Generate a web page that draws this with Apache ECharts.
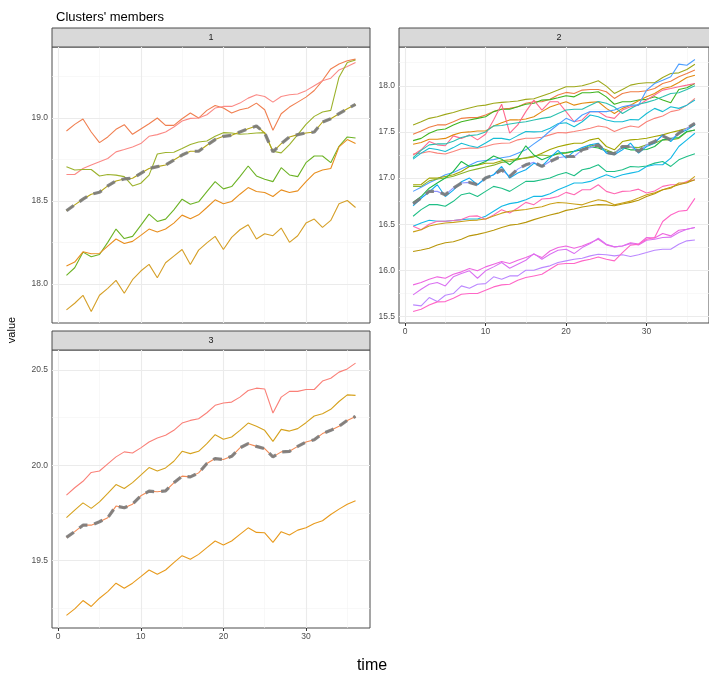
<!DOCTYPE html>
<html><head><meta charset="utf-8">
<script src="https://cdn.jsdelivr.net/npm/echarts@6/dist/echarts.min.js"></script>
<style>html,body{margin:0;padding:0;background:#fff}#c{width:709px;height:677px}</style>
</head><body><div id="c"></div>
<script>
const FONT = '"Liberation Sans", Arial, sans-serif';
const timeSteps = [1,2,3,4,5,6,7,8,9,10,11,12,13,14,15,16,17,18,19,20,21,22,23,24,25,26,27,28,29,30,31,32,33,34,35,36];
const xTicks = [0, 10, 20, 30];
const xMinor = [5, 15, 25, 35];
const yTicks1 = [18.0, 18.5, 19.0];
const yMinor1 = [18.25, 18.75, 19.25];
const yTicks2 = [15.5, 16.0, 16.5, 17.0, 17.5, 18.0];
const yMinor2 = [15.75, 16.25, 16.75, 17.25, 17.75, 18.25];
const yTicks3 = [19.5, 20.0, 20.5];
const yMinor3 = [19.25, 19.75, 20.25];

// ---- Cluster 1 members ----
const c1_A = [18.922,18.962,18.994,18.916,18.852,18.886,18.932,18.96,18.902,18.934,18.966,19.0,18.956,18.956,18.996,19.03,19.0,19.046,19.076,19.06,19.03,19.05,19.06,19.09,19.05,18.926,19.026,19.066,19.096,19.126,19.166,19.226,19.296,19.326,19.345,19.355];
const c1_B = [18.66,18.66,18.696,18.717,18.737,18.756,18.796,18.81,18.826,18.846,18.89,18.9,18.916,18.946,18.982,18.998,19.0,19.02,19.06,19.07,19.07,19.09,19.12,19.14,19.13,19.096,19.13,19.14,19.145,19.165,19.195,19.225,19.24,19.29,19.31,19.335];
const c1_C = [18.707,18.687,18.69,18.69,18.651,18.66,18.656,18.647,18.591,18.607,18.656,18.783,18.792,18.794,18.816,18.84,18.856,18.862,18.89,18.912,18.91,18.902,18.905,18.91,18.912,18.80,18.79,18.84,18.90,18.962,19.01,19.036,19.046,19.246,19.335,19.35];
const c1_D = [18.441,18.477,18.511,18.541,18.553,18.591,18.621,18.633,18.637,18.667,18.696,18.707,18.717,18.747,18.777,18.8,18.8,18.836,18.87,18.89,18.896,18.916,18.936,18.952,18.91,18.796,18.846,18.886,18.90,18.91,18.916,18.976,18.996,19.026,19.056,19.082];
const c1_E = [18.052,18.098,18.192,18.164,18.178,18.251,18.331,18.274,18.287,18.353,18.421,18.377,18.391,18.447,18.511,18.481,18.495,18.557,18.617,18.573,18.587,18.647,18.711,18.651,18.631,18.617,18.701,18.657,18.647,18.731,18.771,18.771,18.731,18.83,18.886,18.88];
const c1_F = [18.108,18.132,18.194,18.182,18.184,18.228,18.271,18.244,18.257,18.293,18.331,18.313,18.331,18.367,18.415,18.393,18.417,18.461,18.507,18.483,18.497,18.541,18.581,18.557,18.551,18.527,18.567,18.551,18.561,18.617,18.667,18.687,18.696,18.826,18.87,18.846];
const c1_G = [17.844,17.884,17.932,17.834,17.932,17.974,18.022,17.944,18.026,18.078,18.118,18.038,18.128,18.168,18.208,18.118,18.204,18.248,18.287,18.208,18.281,18.327,18.357,18.271,18.303,18.291,18.337,18.251,18.291,18.367,18.391,18.341,18.383,18.483,18.503,18.461];
const centroid1 = c1_D;

// ---- Cluster 2 members ----
const c2_a = [17.576,17.61,17.647,17.665,17.69,17.71,17.737,17.76,17.78,17.79,17.81,17.82,17.827,17.835,17.853,17.86,17.89,17.92,17.953,17.99,17.989,18.0,18.025,18.054,17.996,17.917,17.96,18.007,18.025,18.032,18.032,18.09,18.133,18.14,18.176,18.234];
const c2_b = [17.475,17.51,17.55,17.576,17.576,17.61,17.647,17.655,17.655,17.683,17.72,17.748,17.755,17.773,17.81,17.827,17.827,17.853,17.9,17.928,17.917,17.953,17.96,17.96,17.935,17.863,17.917,17.935,17.935,17.946,17.97,18.025,18.05,18.097,18.133,18.17];
const c2_c = [17.406,17.43,17.486,17.52,17.532,17.576,17.61,17.63,17.647,17.665,17.72,17.745,17.745,17.773,17.80,17.81,17.845,17.85,17.87,17.892,17.88,17.924,17.924,17.935,17.88,17.80,17.827,17.827,17.845,17.853,17.88,17.845,17.817,17.96,17.978,18.025];
const c2_d = [17.367,17.385,17.42,17.42,17.43,17.468,17.493,17.50,17.51,17.51,17.565,17.60,17.63,17.63,17.64,17.665,17.72,17.77,17.80,17.827,17.79,17.81,17.82,17.827,17.755,17.70,17.755,17.79,17.838,17.88,17.917,17.97,17.99,18.036,18.09,18.115];
const c2_e = [17.25,17.306,17.396,17.36,17.35,17.457,17.43,17.468,17.414,17.475,17.63,17.80,17.486,17.576,17.72,17.845,17.737,17.827,17.827,17.72,17.61,17.63,17.72,17.72,17.665,17.647,17.737,17.773,17.79,17.845,17.9,17.953,17.97,17.99,18.007,18.025];
const c2_f = [17.26,17.27,17.288,17.27,17.26,17.288,17.317,17.324,17.324,17.342,17.367,17.378,17.38,17.414,17.432,17.432,17.442,17.468,17.493,17.49,17.504,17.52,17.54,17.565,17.55,17.504,17.54,17.565,17.55,17.61,17.647,17.673,17.72,17.737,17.79,17.863];
const c2_g = [17.205,17.27,17.324,17.31,17.288,17.33,17.378,17.35,17.331,17.38,17.432,17.43,17.414,17.46,17.504,17.5,17.504,17.54,17.59,17.60,17.557,17.61,17.683,17.665,17.63,17.61,17.61,17.635,17.63,17.70,17.755,17.72,17.773,17.755,17.79,17.845];
const c2_h = [17.22,17.30,17.36,17.37,17.37,17.40,17.44,17.46,17.47,17.50,17.565,17.57,17.586,17.60,17.61,17.63,17.647,17.66,17.7,17.737,17.745,17.745,17.79,17.83,17.81,17.77,17.70,17.75,17.80,17.82,17.845,17.88,17.917,17.924,17.96,18.0];
const c2_i = [16.856,16.90,16.95,16.99,17.036,17.06,17.10,17.14,17.18,17.19,17.20,17.22,17.234,17.27,17.306,17.37,17.432,17.51,17.58,17.647,17.61,17.683,17.72,17.72,17.72,17.737,17.773,17.79,17.79,17.953,18.025,18.06,18.097,18.234,18.223,18.284];
const c2_j = [16.928,16.93,17.0,17.0,17.018,17.036,17.072,17.126,17.14,17.16,17.16,17.187,17.198,17.21,17.216,17.23,17.27,17.31,17.34,17.36,17.378,17.378,17.414,17.432,17.342,17.306,17.396,17.414,17.42,17.432,17.45,17.468,17.493,17.514,17.54,17.576];
const c2_k = [16.91,16.91,16.97,16.99,17.0,17.02,17.05,17.08,17.1,17.12,17.14,17.17,17.18,17.2,17.22,17.24,17.25,17.24,17.26,17.27,17.29,17.306,17.36,17.34,17.306,17.27,17.342,17.335,17.33,17.36,17.378,17.414,17.414,17.43,17.5,17.52];
const c2_l = [16.737,16.8,16.89,16.946,17.0,17.072,17.18,17.126,17.144,17.18,17.24,17.205,17.144,17.216,17.35,17.25,17.198,17.234,17.27,17.277,17.29,17.306,17.34,17.325,17.29,17.27,17.33,17.306,17.306,17.31,17.342,17.414,17.43,17.44,17.504,17.52];
const c2_m = [16.723,16.784,16.856,16.856,16.82,16.892,16.946,16.953,16.928,17.0,17.036,17.09,17.018,17.097,17.144,17.17,17.126,17.18,17.22,17.234,17.234,17.306,17.33,17.36,17.277,17.263,17.342,17.342,17.288,17.36,17.396,17.457,17.414,17.486,17.54,17.594];
const c2_n = [16.70,16.78,16.85,16.928,16.80,16.87,16.96,17.0,16.928,17.0,17.036,17.126,17.0,17.054,17.09,17.16,17.126,17.22,17.30,17.216,17.29,17.33,17.36,17.378,17.27,17.252,17.306,17.378,17.27,17.342,17.378,17.468,17.396,17.486,17.52,17.576];
const c2_o = [16.586,16.658,16.712,16.712,16.694,16.748,16.82,16.838,16.8,16.856,16.91,16.89,16.856,16.91,16.964,16.964,16.982,17.0,17.036,17.061,17.025,17.09,17.108,17.144,17.072,17.072,17.09,17.126,17.12,17.13,17.162,17.18,17.126,17.198,17.234,17.263];
const c2_p = [16.478,16.514,16.543,16.532,16.532,16.54,16.55,16.556,16.556,16.586,16.64,16.694,16.723,16.737,16.766,16.802,16.802,16.831,16.874,16.91,16.946,16.946,16.964,17.0,17.036,17.007,17.036,17.054,17.072,17.126,17.144,17.144,17.216,17.342,17.414,17.486];
const c2_q = [16.478,16.44,16.50,16.532,16.532,16.54,16.55,16.586,16.59,16.554,16.6,16.658,16.622,16.676,16.737,16.712,16.773,16.78,16.8,16.845,16.82,16.874,16.874,16.928,16.856,16.831,16.856,16.86,16.88,16.838,16.86,16.91,16.928,16.93,16.964,16.982];
const c2_r = [16.417,16.44,16.48,16.50,16.514,16.52,16.53,16.54,16.545,16.557,16.59,16.62,16.64,16.65,16.66,16.676,16.69,16.72,16.735,16.73,16.72,16.71,16.74,16.766,16.75,16.71,16.73,16.75,16.784,16.82,16.84,16.874,16.89,16.946,16.95,17.018];
const c2_s = [16.204,16.22,16.24,16.276,16.30,16.31,16.338,16.374,16.39,16.41,16.435,16.464,16.49,16.50,16.52,16.55,16.575,16.60,16.62,16.65,16.665,16.687,16.70,16.712,16.71,16.70,16.72,16.737,16.76,16.80,16.83,16.874,16.90,16.928,16.95,16.982];
const c2_t = [15.843,15.868,15.904,15.93,15.915,15.958,15.984,16.02,15.995,16.038,16.067,16.096,16.074,16.11,16.139,16.175,16.139,16.21,16.247,16.265,16.24,16.265,16.30,16.338,16.276,16.255,16.265,16.30,16.285,16.356,16.35,16.40,16.374,16.435,16.446,16.464];
const c2_u = [15.735,15.796,15.85,15.868,15.832,15.93,15.966,15.995,15.915,15.995,16.038,16.085,16.023,16.067,16.11,16.182,16.12,16.175,16.218,16.229,16.182,16.247,16.29,16.348,16.283,16.255,16.265,16.29,16.276,16.327,16.338,16.356,16.36,16.41,16.446,16.464];
const c2_v = [15.626,15.616,15.706,15.662,15.731,15.749,15.832,15.807,15.85,15.857,15.93,15.904,15.94,15.94,16.002,16.002,16.03,16.049,16.085,16.103,16.12,16.132,16.157,16.175,16.17,16.157,16.17,16.15,16.17,16.193,16.218,16.229,16.229,16.283,16.32,16.33];
const c2_w = [15.554,15.58,15.626,15.659,15.662,15.699,15.742,15.749,15.749,15.785,15.821,15.843,15.85,15.894,15.922,15.94,15.958,16.013,16.067,16.074,16.074,16.103,16.12,16.146,16.12,16.103,16.193,16.273,16.283,16.338,16.356,16.53,16.60,16.64,16.65,16.78];
const centroid2 = c2_m;

// ---- Cluster 3 members ----
const c3_P = [19.843,19.882,19.916,19.962,19.970,20.007,20.044,20.07,20.064,20.091,20.122,20.143,20.157,20.183,20.221,20.235,20.244,20.275,20.314,20.326,20.331,20.357,20.392,20.404,20.4,20.274,20.357,20.387,20.387,20.397,20.397,20.441,20.456,20.488,20.505,20.535];
const c3_Q = [19.725,19.765,19.803,19.774,19.808,19.852,19.899,19.878,19.909,19.948,19.988,19.970,19.986,20.021,20.073,20.061,20.073,20.113,20.16,20.136,20.148,20.183,20.221,20.204,20.183,20.125,20.188,20.179,20.192,20.223,20.258,20.27,20.293,20.334,20.369,20.366];
const c3_R = [19.622,19.652,19.686,19.686,19.704,19.725,19.786,19.777,19.796,19.840,19.864,19.861,19.866,19.908,19.943,19.939,19.960,20.009,20.035,20.03,20.047,20.091,20.113,20.099,20.087,20.044,20.07,20.073,20.099,20.122,20.134,20.166,20.183,20.204,20.235,20.256];
const c3_S = [19.213,19.247,19.291,19.26,19.303,19.338,19.382,19.355,19.382,19.416,19.451,19.429,19.451,19.490,19.526,19.507,19.533,19.568,19.603,19.582,19.603,19.638,19.672,19.648,19.646,19.596,19.652,19.634,19.66,19.672,19.695,19.709,19.742,19.77,19.796,19.814];
const centroid3 = c3_R;

const members = [
  {g:0, v:c1_A, c:'#F07F50'}, {g:0, v:c1_B, c:'#FB8A86'}, {g:0, v:c1_C, c:'#9CB22C'},
  {g:0, v:c1_D, c:'#B3A415'}, {g:0, v:c1_E, c:'#6CB325'}, {g:0, v:c1_F, c:'#E88E1E'},
  {g:0, v:c1_G, c:'#D6A028'},
  {g:1, v:c2_a, c:'#9EA81A'}, {g:1, v:c2_b, c:'#EF7D45'}, {g:1, v:c2_c, c:'#3FB41F'},
  {g:1, v:c2_d, c:'#E28A10'}, {g:1, v:c2_e, c:'#FF6A8E'}, {g:1, v:c2_f, c:'#F9837A'},
  {g:1, v:c2_g, c:'#17BDD4'}, {g:1, v:c2_h, c:'#2CC0B0'}, {g:1, v:c2_i, c:'#4E9FFF'},
  {g:1, v:c2_j, c:'#A3A500'}, {g:1, v:c2_k, c:'#8AB32A'}, {g:1, v:c2_l, c:'#1DB84A'},
  {g:1, v:c2_m, c:'#8F94FF'}, {g:1, v:c2_n, c:'#11ADF0'}, {g:1, v:c2_o, c:'#1FBF86'},
  {g:1, v:c2_p, c:'#14B9E6'}, {g:1, v:c2_q, c:'#FF6AB4'}, {g:1, v:c2_r, c:'#C9A018'},
  {g:1, v:c2_s, c:'#B8960A'}, {g:1, v:c2_t, c:'#EE66E0'}, {g:1, v:c2_u, c:'#DA72F2'},
  {g:1, v:c2_v, c:'#BB88FF'}, {g:1, v:c2_w, c:'#FF66C6'},
  {g:2, v:c3_P, c:'#FA8078'}, {g:2, v:c3_Q, c:'#D6A21E'}, {g:2, v:c3_R, c:'#F28A55'},
  {g:2, v:c3_S, c:'#E89A1C'}
];
const centroids = [centroid1, centroid2, centroid3];

const grids = [
  {left:52, top:47, width:318, height:276},
  {left:399, top:47, width:320, height:276},
  {left:52, top:350, width:318, height:278}
];
const yRanges = [[17.765, 19.428], [15.43, 18.42], [19.147, 20.604]];
const yTicks = [yTicks1, yTicks2, yTicks3];
const yMinors = [yMinor1, yMinor2, yMinor3];

const pairs = v => v.map((y, i) => [timeSteps[i], y]);
const labelStyle = {color:'#4D4D4D', fontSize:8.5, fontFamily:FONT};

const series = [];
grids.forEach((gr, g) => {
  const ml = [];
  xMinor.forEach(x => ml.push({xAxis:x, lineStyle:{color:'#F4F4F4', width:0.6, type:'solid'}}));
  yMinors[g].forEach(y => ml.push({yAxis:y, lineStyle:{color:'#F4F4F4', width:0.6, type:'solid'}}));
  xTicks.forEach(x => ml.push({xAxis:x, lineStyle:{color:'#EBEBEB', width:1.1, type:'solid'}}));
  yTicks[g].forEach(y => ml.push({yAxis:y, lineStyle:{color:'#EBEBEB', width:1.1, type:'solid'}}));
  series.push({type:'line', xAxisIndex:g, yAxisIndex:g, data:[], silent:true, animation:false,
    markLine:{silent:true, symbol:['none','none'], label:{show:false}, animation:false, z:1, data:ml}});
});
members.forEach(m => series.push({
  type:'line', xAxisIndex:m.g, yAxisIndex:m.g, data:pairs(m.v), showSymbol:false, symbol:'none',
  silent:true, animation:false, z:3, lineStyle:{color:m.c, width:1.1}, itemStyle:{color:m.c}
}));
centroids.forEach((v, g) => series.push({
  type:'line', xAxisIndex:g, yAxisIndex:g, data:pairs(v), showSymbol:false, symbol:'none',
  silent:true, animation:false, z:4,
  lineStyle:{color:'#7A7A7A', width:3.2, type:[9,7], opacity:0.9, cap:'butt'}, itemStyle:{color:'#7A7A7A'}
}));

const chart = echarts.init(document.getElementById('c'), null, {renderer:'canvas'});
chart.setOption({
  animation:false,
  backgroundColor:'#fff',
  title:{text:"Clusters' members", left:51, top:6, textStyle:{fontSize:13, fontWeight:'normal', color:'#000', fontFamily:FONT}},
  grid: grids.map(gr => Object.assign({show:true, borderColor:'#4D4D4D', borderWidth:1, backgroundColor:'transparent', containLabel:false}, gr)),
  xAxis: grids.map((gr, g) => ({
    type:'value', gridIndex:g, min:-0.75, max:37.75,
    splitLine:{show:false}, axisLine:{show:false},
    axisTick:{show:g!==0, length:3, lineStyle:{color:'#333'}, customValues:xTicks},
    axisLabel:Object.assign({show:g!==0, margin:4, customValues:xTicks}, labelStyle)
  })),
  yAxis: grids.map((gr, g) => ({
    type:'value', gridIndex:g, min:yRanges[g][0], max:yRanges[g][1],
    splitLine:{show:false}, axisLine:{show:false},
    axisTick:{show:true, length:3, lineStyle:{color:'#333'}, customValues:yTicks[g]},
    axisLabel:Object.assign({margin:4, customValues:yTicks[g], formatter:v => v.toFixed(1)}, labelStyle)
  })),
  series: series,
  graphic: [
    {type:'rect', shape:{x:52, y:28, width:318, height:19}, style:{fill:'#D9D9D9', stroke:'#4D4D4D', lineWidth:1}},
    {type:'text', x:211, y:37.5, style:{text:'1', fontSize:9, fill:'#1A1A1A', fontFamily:FONT, textAlign:'center', textVerticalAlign:'middle'}},
    {type:'rect', shape:{x:399, y:28, width:320, height:19}, style:{fill:'#D9D9D9', stroke:'#4D4D4D', lineWidth:1}},
    {type:'text', x:559, y:37.5, style:{text:'2', fontSize:9, fill:'#1A1A1A', fontFamily:FONT, textAlign:'center', textVerticalAlign:'middle'}},
    {type:'rect', shape:{x:52, y:331, width:318, height:19}, style:{fill:'#D9D9D9', stroke:'#4D4D4D', lineWidth:1}},
    {type:'text', x:211, y:340.5, style:{text:'3', fontSize:9, fill:'#1A1A1A', fontFamily:FONT, textAlign:'center', textVerticalAlign:'middle'}},
    {type:'text', x:12, y:330, rotation:Math.PI/2, style:{text:'value', fontSize:11, fill:'#000', fontFamily:FONT, textAlign:'center', textVerticalAlign:'middle'}},
    {type:'text', x:372, y:666, style:{text:'time', fontSize:16, fill:'#000', fontFamily:FONT, textAlign:'center', textVerticalAlign:'middle'}}
  ]
});
</script>
</body></html>
